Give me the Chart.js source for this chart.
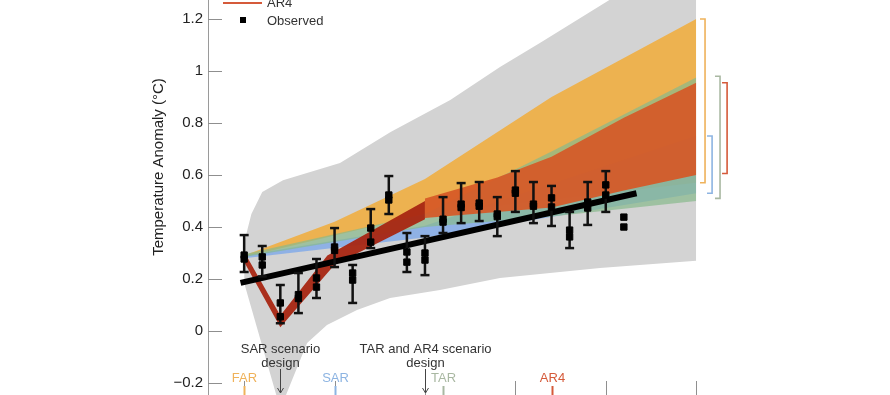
<!DOCTYPE html>
<html>
<head>
<meta charset="utf-8">
<script src="https://cdn.jsdelivr.net/npm/chart.js@4.4.1/dist/chart.umd.min.js"></script>
<style>
  html, body { margin: 0; padding: 0; background: #fff; }
  #wrap { width: 890px; height: 395px; }
</style>
</head>
<body>
<div id="wrap"><canvas id="c" width="890" height="395"></canvas></div>
<script>
// observed annual anomalies (two records per year) with error bars
const obsYears = [1990,1991,1992,1993,1994,1995,1996,1997,1998,1999,2000,2001,2002,2003,2004,2005,2006,2007,2008,2009,2010,2011];
const obsA    = [0.292,0.285,0.108,0.140,0.204,0.323,0.223,0.396,0.523,0.304,0.300,0.419,0.488,0.492,0.450,0.542,0.488,0.512,0.388,0.496,0.562,0.438];
const obsB    = [0.277,0.254,0.055,0.125,0.169,0.310,0.196,0.342,0.504,0.265,0.273,0.430,0.475,0.480,0.440,0.530,0.480,0.477,0.362,0.473,0.523,0.400];
const obsHigh = [0.369,0.327,0.177,0.223,0.277,0.396,0.254,0.469,0.596,0.377,0.365,0.515,0.569,0.573,0.515,0.615,0.573,0.558,0.458,0.573,0.615,null];
const obsLow  = [0.227,0.210,0.030,0.069,0.127,0.246,0.108,0.319,0.450,0.227,0.215,0.377,0.415,0.423,0.365,0.458,0.415,0.404,0.319,0.408,0.458,null];

// linear trend of the observations
const trendYears = [1989.8, 2011.7];
const trendVals  = [0.185, 0.53];

// outer grey envelope
const grayUpYears = [1990, 1990.4, 1991, 1992.15, 1995.3, 1998.1, 2001.4, 2004.15, 2006.4, 2010.2, 2015];
const grayUp      = [0.34, 0.45, 0.535, 0.58, 0.646, 0.765, 0.888, 1.015, 1.11, 1.273, 1.47];
const grayLoYears = [1990, 1992, 1993.48, 1994.58, 1996.24, 1998.07, 2000.83, 2004.15, 2009.68, 2015];
const grayLo      = [0.185, -0.30, -0.046, 0.023, 0.081, 0.127, 0.158, 0.204, 0.242, 0.27];

// FAR
const farUpYears = [1990, 1995, 2000, 2007, 2015];
const farUp      = [0.29, 0.42, 0.585, 0.90, 1.20];
const farLoYears = [1990, 2000, 2015];
const farLo      = [0.285, 0.45, 0.57];
// SAR
const sarUpYears = [1990, 2000, 2015];
const sarUp      = [0.29, 0.405, 0.75];
const sarLoYears = [1990, 2000, 2015];
const sarLo      = [0.28, 0.36, 0.53];
// TAR
const tarUpYears = [1990, 2000, 2007, 2015];
const tarUp      = [0.295, 0.45, 0.69, 0.975];
const tarLoYears = [1990, 2000, 2007, 2011, 2015];
const tarLo      = [0.285, 0.40, 0.44, 0.47, 0.50];
// AR4 (historical part, then projection)
const ar4HistUpYears = [1990, 1992, 1994.6, 2000];
const ar4HistUp      = [0.305, 0.06, 0.29, 0.50];
const ar4HistLoYears = [1990, 1992, 1995, 2000];
const ar4HistLo      = [0.265, 0.015, 0.255, 0.43];
const ar4UpYears = [2000, 2002, 2004, 2007, 2011, 2015];
const ar4Up      = [0.51, 0.55, 0.59, 0.67, 0.82, 0.955];
const ar4LoYears = [2000, 2007, 2011, 2015];
const ar4Lo      = [0.435, 0.475, 0.54, 0.60];

// ranges shown by the brackets on the right
const bracketNames = ['FAR', 'SAR', 'TAR', 'AR4'];
const bracketHigh  = [1.20, 0.75, 0.98, 0.955];
const bracketLow   = [0.57, 0.53, 0.51, 0.606];

// report years and scenario design years
const reportNames = ['FAR', 'SAR', 'TAR', 'AR4'];
const reportYears = [1990, 1995, 2001, 2007];
const scenarioYears = [1992, 2000];
const scenarioText  = [['SAR scenario', 'design'], ['TAR and AR4 scenario', 'design']];

const xTickYears  = [1990, 1995, 2000, 2005, 2010, 2015];
const yTickValues = [-0.2, 0, 0.2, 0.4, 0.6, 0.8, 1, 1.2];
const yTickLabels = ['\u22120.2', '0', '0.2', '0.4', '0.6', '0.8', '1', '1.2'];

// ---- styling ----
const FONT = '"Liberation Sans", Arial, sans-serif';
const col = {
  gray: '#d3d3d3',
  FAR: '#edb250', SAR: 'rgba(120,165,235,0.75)', TAR: 'rgba(135,185,140,0.7)',
  ar4Hist: 'rgba(168,38,18,0.95)', ar4: 'rgba(214,88,38,0.92)'
};
const lineCol = { FAR: '#efb25a', SAR: '#8db4e2', TAR: '#a9b8a2', AR4: '#d55a3a' };
const bracketOffset = [0.49, 0.88, 1.32, 1.71];

const pts = (xs, ys) => xs.map((x, i) => ({ x: x, y: ys[i] }));

const datasets = [];
function addBand(loYears, lo, upYears, up, color, order) {
  const loIdx = datasets.length;
  datasets.push({ data: pts(loYears, lo), borderColor: 'transparent', borderWidth: 0, pointRadius: 0, fill: false, order: order });
  datasets.push({ data: pts(upYears, up), borderColor: 'transparent', borderWidth: 0, pointRadius: 0, fill: loIdx, backgroundColor: color, order: order });
}
addBand(grayLoYears, grayLo, grayUpYears, grayUp, col.gray, 20);
addBand(farLoYears, farLo, farUpYears, farUp, col.FAR, 19);
addBand(sarLoYears, sarLo, sarUpYears, sarUp, col.SAR, 18);
addBand(tarLoYears, tarLo, tarUpYears, tarUp, col.TAR, 17);
addBand(ar4HistLoYears, ar4HistLo, ar4HistUpYears, ar4HistUp, col.ar4Hist, 16);
addBand(ar4LoYears, ar4Lo, ar4UpYears, ar4Up, col.ar4, 15);

datasets.push({ data: pts(trendYears, trendVals), borderColor: '#000', borderWidth: 6, borderCapStyle: 'butt', pointRadius: 0, fill: false, order: 5 });

let errPts = [];
obsYears.forEach((yr, i) => {
  if (obsHigh[i] == null) return;
  errPts.push({ x: yr, y: obsLow[i] }, { x: yr, y: obsHigh[i] }, { x: yr, y: null });
});
datasets.push({ data: errPts, borderColor: '#111', borderWidth: 2.5, pointStyle: 'line', pointRadius: 4.5,
  pointBorderColor: '#111', pointBorderWidth: 2.5, fill: false, spanGaps: false, order: 4 });
datasets.push({ data: pts(obsYears, obsA), showLine: false, pointStyle: 'rect', pointRadius: 4.5, pointBackgroundColor: '#000',
  pointBorderColor: '#000', pointBorderWidth: 1, order: 3 });
datasets.push({ data: pts(obsYears, obsB), showLine: false, pointStyle: 'rect', pointRadius: 4.5, pointBackgroundColor: '#000',
  pointBorderColor: '#000', pointBorderWidth: 1, order: 3 });

bracketNames.forEach((n, i) => {
  const xb = 2015 + bracketOffset[i];
  datasets.push({ data: [{ x: xb - 0.28, y: bracketHigh[i] }, { x: xb, y: bracketHigh[i] }, { x: xb, y: bracketLow[i] }, { x: xb - 0.28, y: bracketLow[i] }],
    borderColor: lineCol[n], borderWidth: 1.6, pointRadius: 0, fill: false, order: 2 });
});

const decor = {
  id: 'decor',
  afterDatasetsDraw(chart) {
    const { ctx, chartArea: ca, scales: { x, y } } = chart;
    const b = ca.bottom;
    ctx.save();
    // inward y ticks
    ctx.strokeStyle = '#8f8f8f'; ctx.lineWidth = 1;
    yTickValues.forEach(v => {
      const py = Math.round(y.getPixelForValue(v)) + 0.5;
      ctx.beginPath(); ctx.moveTo(ca.left, py); ctx.lineTo(ca.left + 14, py); ctx.stroke();
    });
    // x ticks rising from the (cropped) bottom axis
    xTickYears.forEach(yr => {
      const px = Math.round(x.getPixelForValue(yr)) + 0.5;
      ctx.beginPath(); ctx.moveTo(px, b - 14); ctx.lineTo(px, b); ctx.stroke();
    });
    // report publication markers
    ctx.font = '13px ' + FONT; ctx.textAlign = 'center'; ctx.textBaseline = 'middle';
    reportNames.forEach((n, i) => {
      const px = Math.round(x.getPixelForValue(reportYears[i])) + 0.5;
      ctx.fillStyle = lineCol[n];
      ctx.fillText(n, px, b - 17);
      ctx.strokeStyle = lineCol[n]; ctx.lineWidth = 2;
      ctx.beginPath(); ctx.moveTo(px, b - 9); ctx.lineTo(px, b); ctx.stroke();
    });
    // scenario design arrows
    scenarioYears.forEach((yr, i) => {
      const px = Math.round(x.getPixelForValue(yr)) + 0.5;
      ctx.fillStyle = '#333';
      ctx.fillText(scenarioText[i][0], px, b - 46);
      ctx.fillText(scenarioText[i][1], px, b - 32);
      ctx.strokeStyle = '#444'; ctx.lineWidth = 1;
      ctx.beginPath(); ctx.moveTo(px, b - 26); ctx.lineTo(px, b - 2); ctx.stroke();
      ctx.beginPath(); ctx.moveTo(px - 3, b - 7); ctx.lineTo(px, b - 2); ctx.lineTo(px + 3, b - 7); ctx.stroke();
    });
    // y axis title
    ctx.save();
    ctx.translate(159, 167);
    ctx.rotate(-Math.PI / 2);
    ctx.fillStyle = '#222'; ctx.font = '15px ' + FONT;
    ctx.fillText('Temperature Anomaly (\u00b0C)', 0, 0);
    ctx.restore();
    // legend (upper entries cropped)
    ctx.strokeStyle = lineCol.AR4; ctx.lineWidth = 2;
    ctx.beginPath(); ctx.moveTo(223, 3); ctx.lineTo(262, 3); ctx.stroke();
    ctx.fillStyle = '#000'; ctx.fillRect(240, 17, 6, 6);
    ctx.fillStyle = '#333'; ctx.font = '13px ' + FONT; ctx.textAlign = 'left'; ctx.textBaseline = 'alphabetic';
    ctx.fillText('AR4', 267, 7);
    ctx.fillText('Observed', 267, 24.5);
    ctx.restore();
  }
};

new Chart(document.getElementById('c'), {
  type: 'line',
  data: { datasets: datasets },
  options: {
    responsive: false,
    animation: false,
    events: [],
    layout: { padding: 0, autoPadding: false },
    plugins: { legend: { display: false }, tooltip: { enabled: false } },
    scales: {
      x: { type: 'linear', min: 1988, max: 2025.72, display: false },
      y: {
        min: -0.246, max: 1.273,
        afterBuildTicks: s => { s.ticks = yTickValues.map(v => ({ value: v })); },
        afterFit: s => { s.width = 208; s.paddingTop = 0; s.paddingBottom = 0; },
        grid: { display: true, drawOnChartArea: false, drawTicks: false },
        border: { display: true, color: '#9a9a9a', width: 1 },
        ticks: { padding: 5, color: '#222', autoSkip: false, font: { size: 15, family: FONT },
          callback: (v, i) => yTickLabels[i] }
      }
    }
  },
  plugins: [decor]
});
</script>
</body>
</html>
